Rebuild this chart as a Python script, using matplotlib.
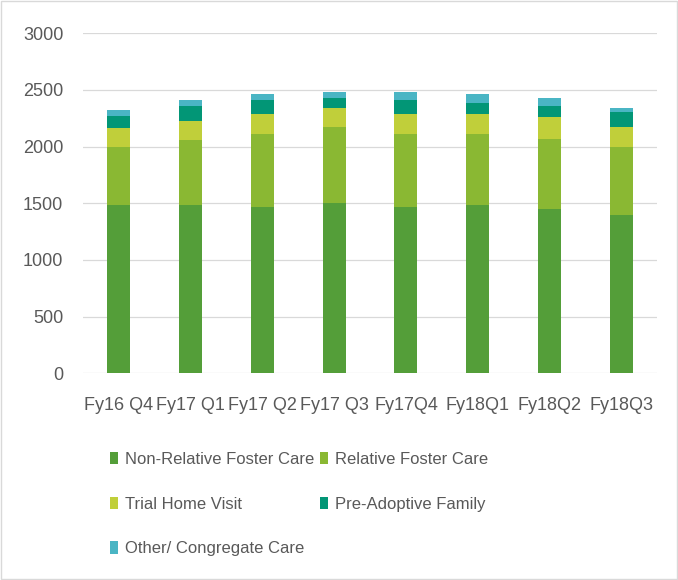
import matplotlib
matplotlib.use("Agg")
import matplotlib.pyplot as plt
from matplotlib.patches import Rectangle
import numpy as np

categories = ["Fy16 Q4", "Fy17 Q1", "Fy17 Q2", "Fy17 Q3", "Fy17Q4", "Fy18Q1", "Fy18Q2", "Fy18Q3"]
non_relative = [1484, 1484, 1469, 1505, 1469, 1484, 1449, 1396]
relative = [515, 571, 639, 670, 639, 624, 620, 603]
trial_home = [162, 173, 176, 162, 176, 176, 195, 176]
pre_adoptive = [108, 127, 124, 88, 124, 103, 91, 127]
other = [53, 56, 53, 53, 70, 74, 70, 35]

series_names = ["Non-Relative Foster Care", "Relative Foster Care", "Trial Home Visit",
                "Pre-Adoptive Family", "Other/ Congregate Care"]
colors = ["#549E39", "#8AB833", "#C0CF3A", "#029676", "#4AB5C4"]
yticks = [0, 500, 1000, 1500, 2000, 2500, 3000]

plt.rcParams['font.family'] = ['Liberation Sans', 'DejaVu Sans']
txt = "#595959"

fig = plt.figure(figsize=(6.78, 5.80), dpi=100)
ax = fig.add_axes([0.122, 0.3564, 0.8476, 0.5862])

x = np.arange(len(categories))
bottom = np.zeros(len(categories))
handles = []
for vals, name, c in zip([non_relative, relative, trial_home, pre_adoptive, other], series_names, colors):
    b = ax.bar(x, vals, width=0.32, bottom=bottom, color=c, label=name, zorder=3)
    handles.append(b)
    bottom += np.array(vals)

ax.set_xlim(-0.5, len(categories) - 0.5)
ax.set_ylim(0, 3000)
ax.set_yticks(yticks)
ax.set_yticklabels([str(v) for v in yticks])
ax.set_xticks(x)
ax.set_xticklabels(categories)
ax.grid(axis='y', color='#d9d9d9', linewidth=0.9, zorder=0)
for s in ax.spines.values():
    s.set_visible(False)
ax.tick_params(axis='both', length=0, colors=txt, labelsize=13)
ax.tick_params(axis='y', pad=14)
ax.tick_params(axis='x', pad=17)

order = [0, 2, 4, 1, 3]
leg = fig.legend([handles[i] for i in order], [series_names[i] for i in order],
                 ncol=2, loc='upper left', bbox_to_anchor=(0.162, 0.221),
                 frameon=False, fontsize=12, labelcolor=txt,
                 handlelength=0.48, handleheight=0.78, handletextpad=0.42,
                 columnspacing=0.36, labelspacing=1.78, borderaxespad=0, borderpad=0)

fig.patches.append(Rectangle((0.002, 0.002), 0.996, 0.996, transform=fig.transFigure,
                             fill=False, edgecolor='#d9d9d9', linewidth=1))

fig.savefig("out.png", dpi=100)
